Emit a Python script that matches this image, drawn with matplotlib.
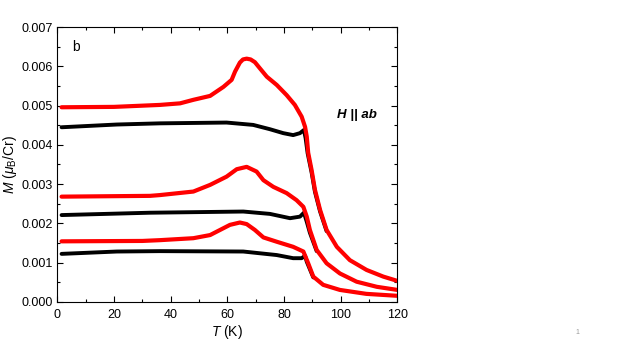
import matplotlib
matplotlib.use("Agg")
import matplotlib.pyplot as plt
from matplotlib.ticker import MultipleLocator

plt.rcParams['font.family'] = ['Liberation Sans', 'DejaVu Sans']
plt.rcParams['mathtext.fontset'] = 'custom'
plt.rcParams['mathtext.rm'] = 'Liberation Sans'
plt.rcParams['mathtext.it'] = 'Liberation Sans:italic'

# top pair (red = upper, black = lower), M in units of 1e-3 muB/Cr
T_red1 = [1.5, 20, 36.2, 43.3, 48, 53.9, 58.6, 61.5, 62.7, 64.4, 65.5, 66.8, 68.2, 69.7, 71.5, 73.9,
          77.4, 80.9, 83.8, 86.2, 87.4, 88, 88.5, 89.7, 90.9, 92.7, 95, 98.6, 103.2,
          109.1, 115, 120]
M_red1 = [4.96, 4.97, 5.02, 5.06, 5.15, 5.25, 5.48, 5.66, 5.87, 6.10, 6.18, 6.20, 6.18, 6.11, 5.95, 5.74,
          5.53, 5.27, 5.02, 4.72, 4.46, 4.21, 3.80, 3.36, 2.85, 2.34, 1.83, 1.40, 1.06,
          0.81, 0.64, 0.53]
T_blk1 = [1.5, 21, 36.2, 59.7, 69.1, 75, 79.7, 83.2, 85.6, 87, 87.6, 88.3, 89.7, 90.9, 92.7, 95]
M_blk1 = [4.45, 4.52, 4.55, 4.57, 4.51, 4.40, 4.30, 4.25, 4.30, 4.38, 4.17, 3.79, 3.30, 2.80, 2.30, 1.80]

# middle pair
T_red2 = [1.5, 32.7, 36.2, 48, 53.9, 59.7, 63.3, 66.8, 70.3, 72.7, 76.2, 80.9, 84.4,
          86.8, 88, 89.1, 91.5, 95, 99.7, 105.6, 112.7, 120]
M_red2 = [2.68, 2.70, 2.72, 2.81, 2.98, 3.19, 3.38, 3.44, 3.32, 3.10, 2.93, 2.77, 2.59,
          2.42, 2.17, 1.83, 1.32, 0.98, 0.72, 0.51, 0.38, 0.30]
T_blk2 = [1.5, 32.7, 65.6, 75, 82.1, 85.6, 87, 88, 89.1, 91.5]
M_blk2 = [2.21, 2.27, 2.30, 2.24, 2.13, 2.17, 2.27, 2.04, 1.76, 1.29]

# bottom pair
T_red3 = [1.5, 30, 36.2, 48, 53.9, 57.4, 60.9, 64.4, 66.8, 69.7, 72.7, 77.4, 83.2, 86.8,
          88.5, 90.3, 93.8, 99.7, 109, 120]
M_red3 = [1.54, 1.55, 1.57, 1.62, 1.70, 1.83, 1.96, 2.02, 1.98, 1.83, 1.64, 1.53, 1.40, 1.28,
          0.98, 0.64, 0.43, 0.30, 0.20, 0.15]
T_blk3 = [1.5, 21, 36.2, 65.6, 77.4, 83.2, 86.2, 87.4, 88, 90.3]
M_blk3 = [1.22, 1.28, 1.29, 1.28, 1.19, 1.11, 1.11, 1.17, 1.02, 0.62]

fig = plt.figure(figsize=(6.23, 3.5), dpi=100)
ax = fig.add_axes([0.092, 0.138, 0.546, 0.784])

red = '#ff0000'
for T, M in [(T_blk1, M_blk1), (T_blk2, M_blk2), (T_blk3, M_blk3)]:
    ax.plot(T, [m * 1e-3 for m in M], color='black', lw=2.8,
            solid_capstyle='round', solid_joinstyle='round', zorder=2)
for T, M in [(T_red1, M_red1), (T_red2, M_red2), (T_red3, M_red3)]:
    ax.plot(T, [m * 1e-3 for m in M], color=red, lw=3.0,
            solid_capstyle='round', solid_joinstyle='round', zorder=3)

ax.set_xlim(0, 120)
ax.set_ylim(0, 0.007)
ax.xaxis.set_major_locator(MultipleLocator(20))
ax.xaxis.set_minor_locator(MultipleLocator(10))
ax.yaxis.set_major_locator(MultipleLocator(0.001))
ax.yaxis.set_minor_locator(MultipleLocator(0.0005))
ax.yaxis.set_major_formatter(plt.FormatStrFormatter('%.3f'))
ax.tick_params(which='both', direction='in', top=True, right=True, labelsize=9, width=0.8)
ax.tick_params(which='major', length=4)
ax.tick_params(which='minor', length=2.5)
ax.tick_params(axis='x', pad=5)
for s in ax.spines.values():
    s.set_linewidth(0.8)

ax.set_xlabel(r'$T$ (K)', fontsize=10, labelpad=2)
ax.set_ylabel(r'$M$ ($\mu_\mathrm{B}$/Cr)', fontsize=10)
ax.yaxis.set_label_coords(-0.112, 0.5)

ax.text(0.044, 0.93, 'b', transform=ax.transAxes, fontsize=10, va='center')
ax.text(0.94, 0.68, 'H || ab', transform=ax.transAxes,
        fontsize=9.5, ha='right', va='center', fontweight='bold', style='italic')
fig.text(0.923, 0.045, '1', fontsize=5, color='#999999')

fig.savefig('out.png', dpi=100)
